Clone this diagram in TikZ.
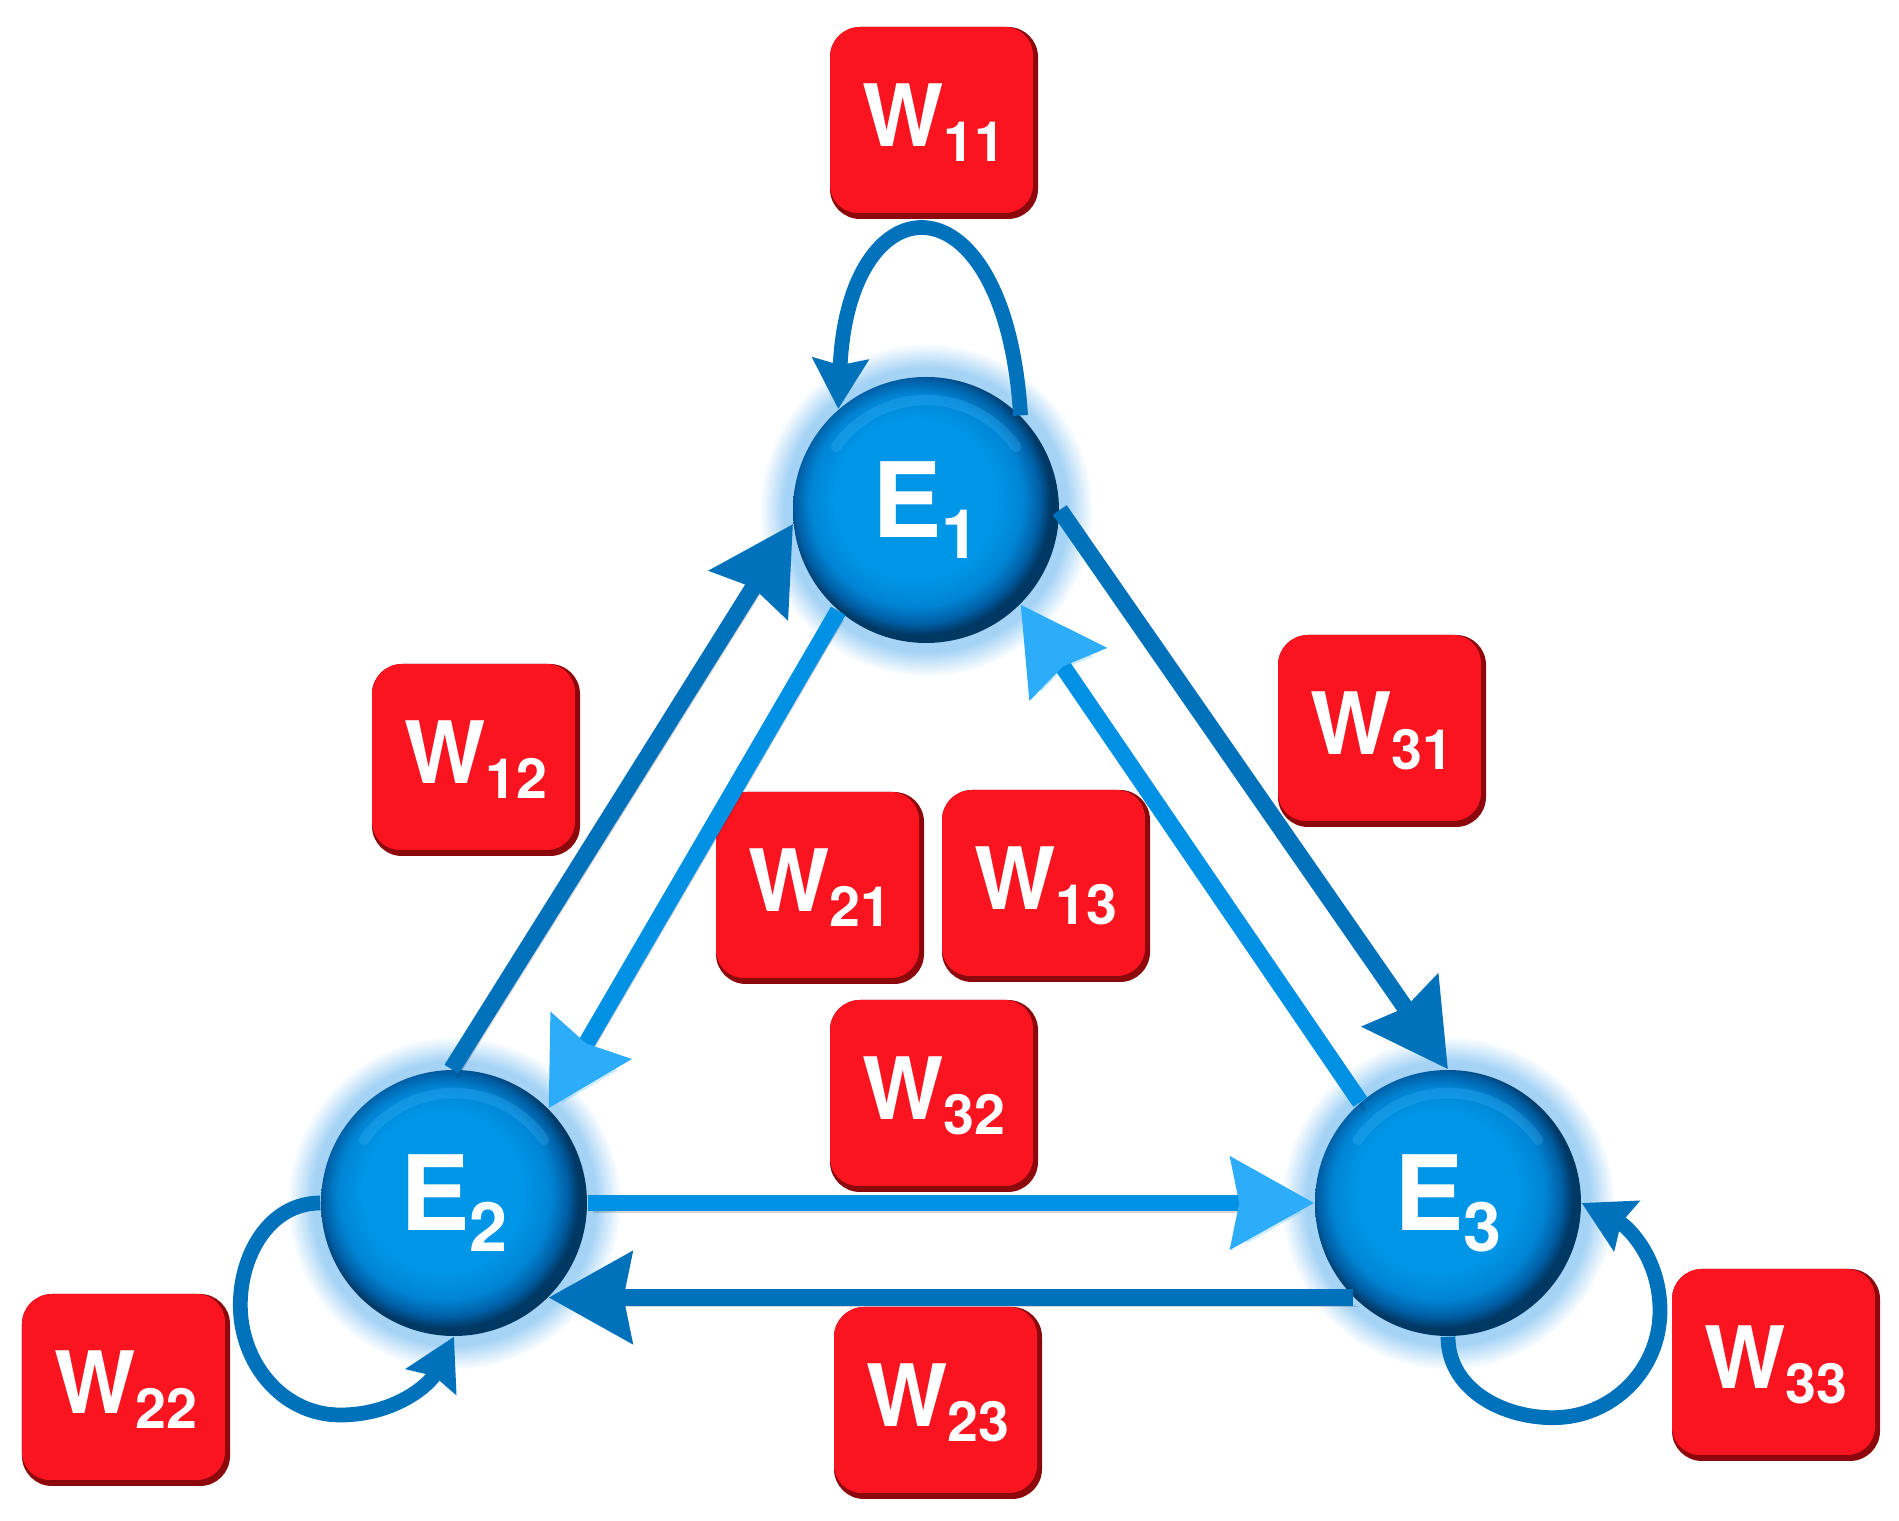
\documentclass[tikz,border=0pt]{standalone}
\usepackage{fontspec}
\setmainfont{TeX Gyre Heros}
\usetikzlibrary{arrows.meta, shadows, fadings}

\definecolor{boxred}{RGB}{250,20,32}
\definecolor{boxdark}{RGB}{140,8,12}
\definecolor{linkblue}{RGB}{0,114,188}
\definecolor{innerblue}{RGB}{0,145,228}
\definecolor{tipblue}{RGB}{45,172,250}
\definecolor{glowblue}{RGB}{90,175,238}
\definecolor{ballC}{RGB}{0,150,232}
\definecolor{ballM}{RGB}{0,132,212}
\definecolor{ballR}{RGB}{0,94,164}
\definecolor{ballE}{RGB}{0,56,100}
\definecolor{ringblue}{RGB}{70,190,255}

\pgfdeclareradialshading{ballshade}{\pgfpoint{-3bp}{3bp}}{%
  color(0bp)=(ballC); color(15bp)=(ballC); color(20bp)=(ballM);
  color(23bp)=(ballR); color(25bp)=(ballE); color(50bp)=(ballE)}

\newcommand{\Wlab}[1]{W\raisebox{-4.3pt}{\fontsize{15.8}{16}\selectfont #1}}
\newcommand{\Elab}[1]{E\raisebox{-6pt}{\fontsize{19.4}{20}\selectfont #1}}

\begin{document}
\begin{tikzpicture}[
    ball/.style={circle, minimum size=2.66cm, inner sep=0pt, text=white,
      font=\fontsize{29.6}{30}\selectfont\bfseries, shade, shading=ballshade,
      circular glow={fill=glowblue, opacity=0.55}},
    wbox/.style={rectangle, rounded corners=0.3cm, minimum width=2.08cm,
      minimum height=1.92cm, fill=boxdark, text=white,
      font=\fontsize{24.5}{26}\selectfont\bfseries,
      path picture={\fill[boxred, rounded corners=0.28cm]
        ([shift={(0,0.06)}]path picture bounding box.south west) rectangle
        ([shift={(-0.05,0)}]path picture bounding box.north east);}},
    shadowed/.style={preaction={draw=black, opacity=0.16,
      transform canvas={shift={(0.05,-0.09)}}}},
    link/.style={draw=linkblue, line width=4.8pt, shadowed,
      -{Stealth[length=8.3mm, width=9mm, inset=0.8mm]}},
    inlink/.style={draw=innerblue, line width=4.8pt, shadowed,
      -{Stealth[length=8.3mm, width=9mm, inset=0.8mm, color=tipblue]}},
    selfloop/.style={draw=linkblue, line width=4.2pt,
      -{Stealth[length=5mm, width=5.5mm, inset=0.6mm]}}
  ]

  \useasboundingbox (0,0) rectangle (18.99,15.21);

  % === States ===
  \node[ball] (E1) at (9.26, 10.11) {\Elab{1}};
  \node[ball] (E2) at (4.54, 3.18) {\Elab{2}};
  \node[ball] (E3) at (14.48, 3.18) {\Elab{3}};

  % soft light ring on top of each ball
  \foreach \s in {E1,E2,E3}
    \draw[ringblue, line width=3pt, opacity=0.25, line cap=round]
      ([shift={(145:1.1)}]\s.center) arc[start angle=145, end angle=35, radius=1.1];

  % === Weights ===
  \node[wbox] (W11) at (9.34, 13.98) {\Wlab{11}};
  \node[wbox] (W12) at (4.76, 7.61) {\Wlab{12}};
  \node[wbox] (W21) at (8.20, 6.33) {\Wlab{21}};
  \node[wbox] (W13) at (10.46, 6.35) {\Wlab{13}};
  \node[wbox] (W31) at (13.82, 7.90) {\Wlab{31}};
  \node[wbox] (W32) at (9.34, 4.25) {\Wlab{32}};
  \node[wbox] (W22) at (1.26, 1.31) {\Wlab{22}};
  \node[wbox] (W23) at (9.38, 1.18) {\Wlab{23}};
  \node[wbox] (W33) at (17.76, 1.56) {\Wlab{33}};

  % === Outer links (clockwise) ===
  \draw[link] (E2.91) -- (E1.186);
  \draw[link] (E1.0) -- (E3.90);
  \draw[link] (E3.225) -- (E2.315);

  % === Inner links ===
  \draw[inlink] (E1.229) -- (E2.45);
  \draw[inlink] (E3.131) -- (E1.315);
  \draw[inlink] (E2.0) -- (E3.180);

  % === Self loops ===
  \draw[selfloop] (E1.45) .. controls +(-0.15,2.45) and +(0.1,2.33) .. (E1.131);
  \draw[selfloop] (E2.180) to[out=180,in=90] ++(-0.8,-1.02)
    to[out=270,in=180] ++(1.0,-1.1) to[out=0,in=243] (E2.270);
  \draw[selfloop] (E3.270) to[out=270,in=180] ++(1.05,-0.81)
    to[out=0,in=270] ++(1.07,1.07) to[out=90,in=333] (E3.0);

\end{tikzpicture}
\end{document}
